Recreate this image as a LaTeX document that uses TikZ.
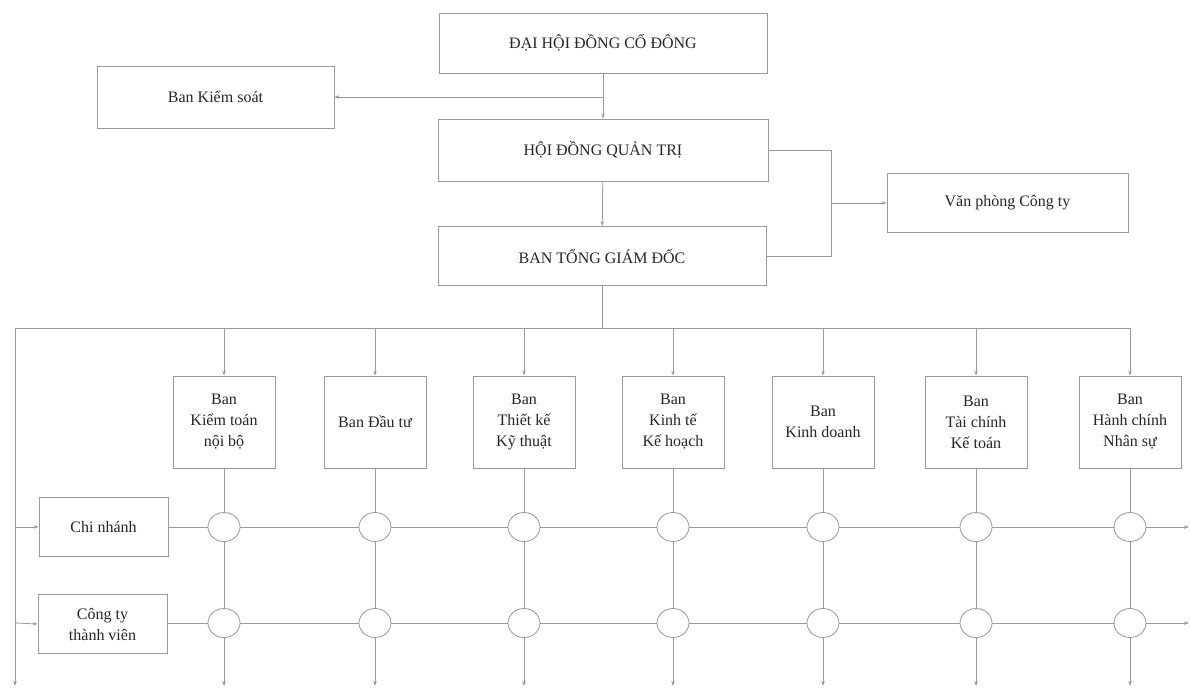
\documentclass[tikz,border=0pt]{standalone}
\usepackage{fontspec}
\setmainfont{Liberation Serif}
\usetikzlibrary{arrows.meta,shapes.geometric}
\definecolor{ln}{HTML}{9A9A9A}
\definecolor{tx}{HTML}{262626}
\begin{document}
\begin{tikzpicture}[x=1pt,y=-1pt,
  box/.style={draw=ln,line width=0.8pt,rectangle,inner sep=0pt,text=tx,font=\fontsize{16}{21}\selectfont,align=center},
  conn/.style={draw=ln,line width=0.8pt},
  arr/.style={conn,-{Stealth[length=5pt,width=3.5pt]}},
  jn/.style={draw=ln,line width=0.8pt,fill=white,ellipse,minimum width=32pt,minimum height=29pt,inner sep=0pt}]
\fill[white] (0,0) rectangle (1190,689);
\useasboundingbox (0,0) rectangle (1190,689);
% top level
\node[box,minimum width=328pt,minimum height=60pt] (dh) at (603,43) {ĐẠI HỘI ĐỒNG CỔ ĐÔNG};
\node[box,minimum width=237pt,minimum height=62pt] (bks) at (215.5,97) {Ban Kiểm soát};
\node[box,minimum width=330pt,minimum height=62pt] (hdqt) at (603,150) {HỘI ĐỒNG QUẢN TRỊ};
\node[box,minimum width=328pt,minimum height=59pt] (btgd) at (602,256) {BAN TỔNG GIÁM ĐỐC};
\node[box,minimum width=241pt,minimum height=59pt] (vp) at (1007.5,203) {Văn phòng Công ty};
\coordinate (ks) at (603,97);
\coordinate (rb) at (831,256);
\coordinate (rm) at (831,203);
\draw[arr] (dh) -- (hdqt);
\draw[arr] (ks) -- (bks.east);
\draw[arr] (hdqt) -- (btgd);
\draw[conn] (hdqt.east) -| (rb) -- (btgd.east);
\draw[arr] (rm) -- (vp.west);
% bus
\coordinate (busc) at (602,328);
\coordinate (busL) at (15,328);
\coordinate (busR) at (1130,328);
\coordinate (bot0) at (15,686);
\coordinate (l1) at (15,527);
\coordinate (l2) at (15,623);
\coordinate (r1) at (1189,527);
\coordinate (r2) at (1189,623);
\draw[conn] (btgd) -- (busc);
\draw[conn] (busL) -- (busR);
\draw[arr] (busL) -- (bot0);
% branches
\node[box,minimum width=129pt,minimum height=59pt] (cn) at (103.5,527) {Chi nhánh};
\node[box,minimum width=129pt,minimum height=59pt] (ct) at (102.5,624) {Công ty\\thành viên};
\draw[arr] (l1) -- (cn.west);
\draw[arr] (l2) -- (ct.west);
% departments
\foreach \i/\x/\t in {1/224/{Ban\\Kiểm toán\\nội bộ},2/375/{Ban Đầu tư},3/524/{Ban\\Thiết kế\\Kỹ thuật},4/673/{Ban\\Kinh tế\\Kế hoạch},5/823/{Ban\\Kinh doanh},6/976/{Ban\\Tài chính\\Kế toán},7/1130/{Ban\\Hành chính\\Nhân sự}}{
  \coordinate (t\i) at (\x,328);
  \coordinate (e\i) at (\x,686);
  \node[box,minimum width=102pt,minimum height=92pt] (d\i) at (\x,422) {\t};
  \node[jn] (a\i) at (\x,527) {};
  \node[jn] (b\i) at (\x,623) {};
  \draw[arr] (t\i) -- (d\i);
  \draw[conn] (d\i) -- (a\i);
  \draw[conn] (a\i) -- (b\i);
  \draw[arr] (b\i) -- (e\i);
}
\draw[conn] (cn) -- (a1) (a1) -- (a2) (a2) -- (a3) (a3) -- (a4) (a4) -- (a5) (a5) -- (a6) (a6) -- (a7);
\draw[arr] (a7) -- (r1);
\draw[conn] (ct.east |- b1) -- (b1) (b1) -- (b2) (b2) -- (b3) (b3) -- (b4) (b4) -- (b5) (b5) -- (b6) (b6) -- (b7);
\draw[arr] (b7) -- (r2);
\end{tikzpicture}
\end{document}
